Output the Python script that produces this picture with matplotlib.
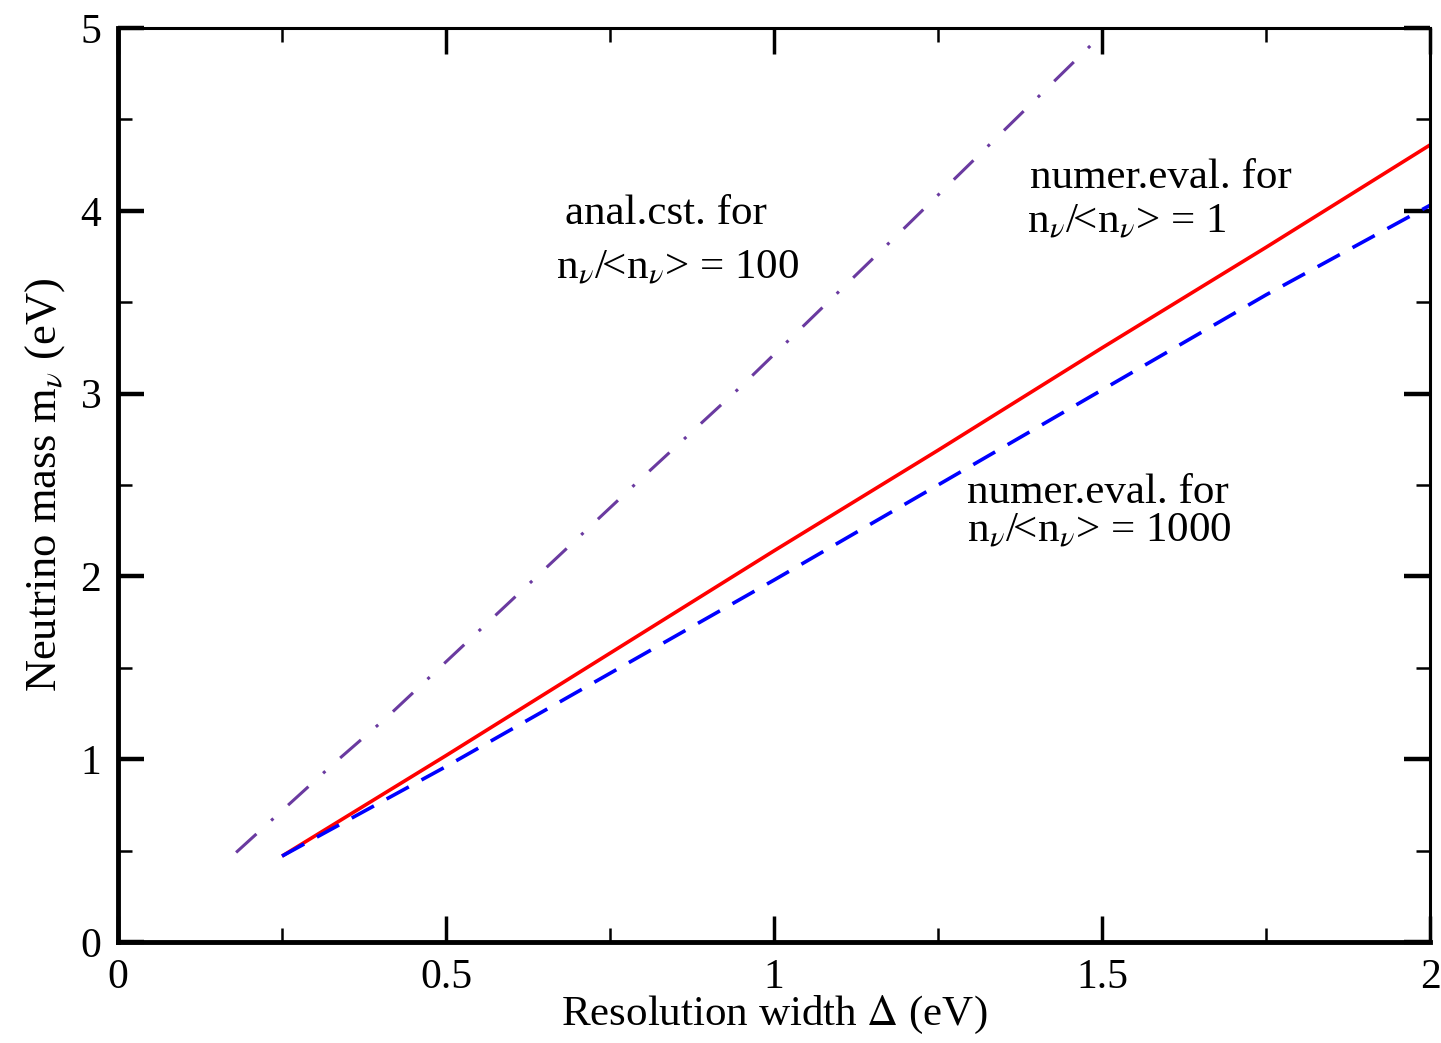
import matplotlib
matplotlib.use("Agg")
import matplotlib.pyplot as plt
from matplotlib.ticker import MultipleLocator, FuncFormatter

# Datos
delta_num = [0.25, 0.5, 0.75, 1.0, 1.25, 1.5, 1.75, 2.0]
m_num_1 = [0.47, 1.02, 1.58, 2.14, 2.69, 3.25, 3.80, 4.36]      # n/<n> = 1
m_num_1000 = [0.47, 0.96, 1.47, 1.98, 2.50, 3.02, 3.54, 4.03]   # n/<n> = 1000
delta_anal = [0.18, 0.33, 0.41, 0.60, 0.79, 0.95, 1.20, 1.49]
m_anal_100 = [0.49, 0.98, 1.23, 1.87, 2.51, 3.04, 3.91, 4.93]   # n/<n> = 100

plt.rcParams['font.family'] = ['Liberation Serif', 'DejaVu Serif']
plt.rcParams['mathtext.fontset'] = 'stix'

fig = plt.figure(figsize=(14.41, 10.43), dpi=100)
ax = fig.add_axes([0.0819, 0.0968, 0.9105, 0.8764])

ax.plot(delta_anal, m_anal_100, color='#6a3aa0', lw=2.2, dashes=(9, 6.5, 1, 6.5))
ax.plot(delta_num, m_num_1, color='#ff0000', lw=2.6, solid_capstyle='butt')
ax.plot(delta_num, m_num_1000, color='#0000ff', lw=2.6, dashes=(7, 4))

ax.set_xlim(0, 2)
ax.set_ylim(0, 5)
ax.xaxis.set_major_locator(MultipleLocator(0.5))
ax.xaxis.set_minor_locator(MultipleLocator(0.25))
ax.yaxis.set_major_locator(MultipleLocator(1))
ax.yaxis.set_minor_locator(MultipleLocator(0.5))
ax.xaxis.set_major_formatter(FuncFormatter(lambda v, p: f"{v:g}"))
ax.yaxis.set_major_formatter(FuncFormatter(lambda v, p: f"{v:g}"))

ax.tick_params(which='both', direction='in', top=True, right=True, labelsize=30)
ax.tick_params(which='major', length=19, width=2.5)
ax.tick_params(which='minor', length=10, width=1.8)
ax.tick_params(axis='x', pad=12)
ax.tick_params(axis='y', pad=12)
ax.tick_params(axis='y', which='major', left=True, width=3.2)

ax.spines['left'].set_linewidth(3.5)
ax.spines['bottom'].set_linewidth(3.5)
ax.spines['top'].set_linewidth(2.2)
ax.spines['right'].set_linewidth(2.2)

ax.set_xlabel(r'Resolution width $\Delta$ (eV)', fontsize=31, labelpad=-2)
ax.set_ylabel(r'Neutrino mass m$_\nu$ (eV)', fontsize=32, labelpad=10)

# Anotaciones
ax.text(0.681, 3.93, 'anal.cst. for', fontsize=31)
ax.text(0.668, 3.63, r'n$_\nu$/<n$_\nu$> = 100', fontsize=31)
ax.text(1.39, 4.125, 'numer.eval. for', fontsize=31)
ax.text(1.385, 3.88, r'n$_\nu$/<n$_\nu$> = 1', fontsize=31)
ax.text(1.294, 2.40, 'numer.eval. for', fontsize=31)
ax.text(1.294, 2.19, r'n$_\nu$/<n$_\nu$> = 1000', fontsize=31)

fig.savefig('out.png', dpi=100)
